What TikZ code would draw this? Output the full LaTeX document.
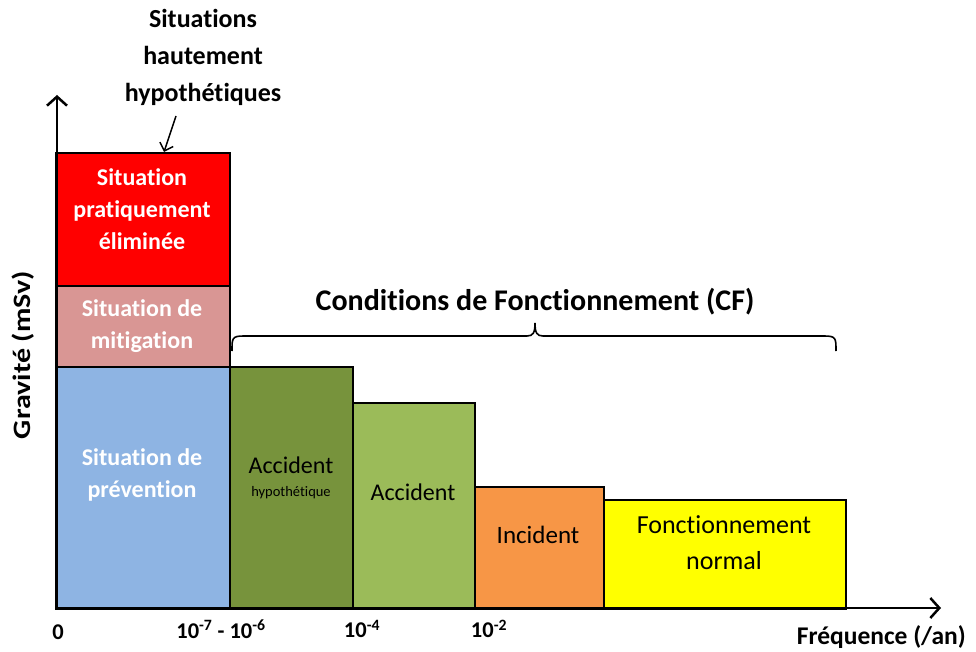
\documentclass[tikz,border=0pt]{standalone}
\usepackage{fontspec}
\setmainfont[Ligatures=NoCommon]{Carlito}
\usetikzlibrary{arrows.meta}
\definecolor{cred}{HTML}{FF0000}
\definecolor{cpink}{HTML}{D99694}
\definecolor{cblue}{HTML}{8EB4E3}
\definecolor{cdgreen}{HTML}{77933C}
\definecolor{clgreen}{HTML}{9BBB59}
\definecolor{corange}{HTML}{F79646}
\definecolor{cyellow}{HTML}{FFFF00}
\begin{document}
\begin{tikzpicture}[x=1pt,y=-1pt,
  box/.style={draw=black, line width=2pt, inner sep=0pt, anchor=north west},
  wlab/.style={text=white, font=\fontsize{24}{32}\selectfont\bfseries, align=center, inner sep=0pt},
  blab/.style={text=black, font=\fontsize{24}{36}\selectfont, align=center, inner sep=0pt},
  axlab/.style={text=black, font=\fontsize{25.5}{30}\selectfont\bfseries, inner sep=0pt},
  ticklab/.style={text=black, font=\fontsize{22.5}{26}\selectfont\bfseries, inner sep=0pt},
  axis/.style={line width=2.5pt, -{Straight Barb[length=9pt,width=20pt,line width=2.5pt]}},
  pointer/.style={line width=1.5pt, -{Straight Barb[length=7pt,width=14pt,line width=1.5pt]}},
  bracestyle/.style={line width=1.6pt}
]
\useasboundingbox (0,0) rectangle (976,652);

% boxes
\node[box, fill=cred, minimum width=174pt, minimum height=133pt] (red) at (55,152) {};
\node[box, fill=cpink, minimum width=174pt, minimum height=81pt] (pink) at (55,285) {};
\node[box, fill=cblue, minimum width=174pt, minimum height=242pt] (blue) at (55,366) {};
\node[box, fill=cdgreen, minimum width=123pt, minimum height=242pt] (dgreen) at (229,366) {};
\node[box, fill=clgreen, minimum width=122pt, minimum height=206pt] (lgreen) at (352,402) {};
\node[box, fill=corange, minimum width=129pt, minimum height=122pt] (orange) at (474,486) {};
\node[box, fill=cyellow, minimum width=242pt, minimum height=109pt] (yellow) at (603,499) {};

% box labels
\node[wlab] (tred) at (142,209) {Situation\\pratiquement\\éliminée};
\node[wlab] (tpink) at (142,326) {Situation de\\mitigation};
\node[wlab] (tblue) at (142,475) {Situation de\\prévention};
\node[blab] (tdg1) at (291,465) {Accident};
\node[text=black, font=\fontsize{14.5}{16}\selectfont, inner sep=0pt] (tdg2) at (291,493) {hypothétique};
\node[blab] (tlg) at (413,492) {Accident};
\node[blab, font=\fontsize{25}{36}\selectfont] (tor) at (538,535) {Incident};
\node[blab, font=\fontsize{26}{36}\selectfont] (tye) at (724,543) {Fonctionnement\\normal};

% axes
\coordinate (origin) at (57,608);
\coordinate (ytop) at (57,95);
\coordinate (xleft) at (55,608);
\coordinate (xright) at (941,608);
\draw[axis] (origin) -- (ytop);
\draw[axis] (xleft) -- (xright);

% axis labels
\node[axlab, font=\fontsize{25}{30}\selectfont\bfseries, transform shape, yscale=1.2, rotate=90] (gravite) at (23,355) {Gravité (mSv)};
\node[axlab, anchor=east] (freq) at (966,637) {Fréquence (/an)};
\node[ticklab] (t0) at (58,632) {0};
\node[ticklab] (t1) at (221,629) {10\textsuperscript{-7} - 10\textsuperscript{-6}};
\node[ticklab] (t2) at (362,629) {10\textsuperscript{-4}};
\node[ticklab] (t3) at (489,629) {10\textsuperscript{-2}};

% top label and pointer
\node[text=black, font=\fontsize{26}{37}\selectfont\bfseries, align=center, inner sep=0pt] (hyp) at (203,57) {Situations\\hautement\\hypothétiques};
\coordinate (pstart) at (176,116);
\coordinate (pend) at (164,152);
\draw[pointer] (pstart) -- (pend);

% brace
\coordinate (bl) at (232,351);
\coordinate (br) at (836,351);
\coordinate (btip) at (535,323);
\draw[bracestyle] (bl) .. controls (232,338) and (232,336) .. (244,336)
  -- (527,336) .. controls (533,336) and (535,333) .. (btip)
  .. controls (535,333) and (537,336) .. (543,336)
  -- (824,336) .. controls (836,336) and (836,338) .. (br);
\node[text=black, font=\fontsize{30}{36}\selectfont\bfseries, inner sep=0pt] (cf) at (535,302) {Conditions de Fonctionnement (CF)};
\end{tikzpicture}
\end{document}
